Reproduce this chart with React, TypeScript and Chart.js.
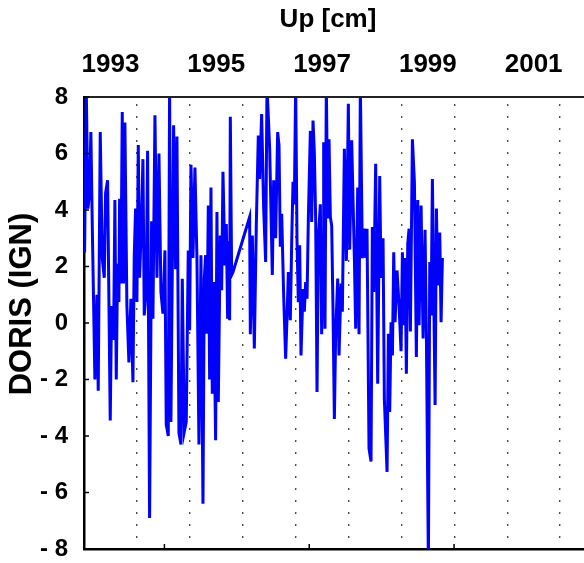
import React, { useEffect, useRef } from "react";
import { Chart, registerables } from "chart.js";

Chart.register(...registerables);

// Epochs (decimal years) and DORIS (IGN) Up residuals in cm
const epochYears: number[] = [
  1993.000, 1993.011, 1993.042, 1993.074, 1993.105, 1993.130, 1993.156, 1993.206, 1993.244, 1993.269,
  1993.307, 1993.345, 1993.383, 1993.408, 1993.446, 1993.496, 1993.521, 1993.559, 1993.584, 1993.610,
  1993.635, 1993.660, 1993.673, 1993.698, 1993.723, 1993.748, 1993.773, 1993.811, 1993.849, 1993.887,
  1993.925, 1993.950, 1993.975, 1994.000, 1994.026, 1994.051, 1994.089, 1994.114, 1994.139, 1994.177,
  1994.202, 1994.240, 1994.278, 1994.303, 1994.341, 1994.366,
  1994.379, 1994.417, 1994.454, 1994.492, 1994.530, 1994.555, 1994.593, 1994.618, 1994.643, 1994.694,
  1994.732, 1994.757, 1994.795, 1994.833, 1994.858, 1994.896, 1994.933, 1994.971, 1994.997, 1995.022,
  1995.060, 1995.097, 1995.135, 1995.173, 1995.211, 1995.249, 1995.274, 1995.299, 1995.324, 1995.350,
  1995.375, 1995.400, 1995.425, 1995.451, 1995.488, 1995.513, 1995.539, 1995.576, 1995.602, 1995.627,
  1995.665, 1995.690, 1995.715, 1995.740,
  1995.753, 1995.766, 1995.791, 1995.816, 1996.131, 1996.144, 1996.182, 1996.220, 1996.257, 1996.295,
  1996.320, 1996.358, 1996.396, 1996.434, 1996.459, 1996.510, 1996.560, 1996.585, 1996.623, 1996.661,
  1996.686, 1996.711, 1996.737, 1996.774, 1996.812, 1996.837, 1996.863, 1996.900, 1996.926, 1996.951,
  1996.976, 1997.001, 1997.027, 1997.052, 1997.077, 1997.102,
  1997.140, 1997.165, 1997.190, 1997.216, 1997.241, 1997.279, 1997.304, 1997.329, 1997.354, 1997.380,
  1997.405, 1997.430, 1997.468, 1997.493, 1997.518, 1997.531, 1997.556, 1997.581, 1997.607, 1997.632,
  1997.657, 1997.682, 1997.707, 1997.733, 1997.758, 1997.796, 1997.821, 1997.859, 1997.884, 1997.922,
  1997.960, 1997.997, 1998.023, 1998.060, 1998.111, 1998.136, 1998.174, 1998.199, 1998.224, 1998.262,
  1998.300, 1998.325, 1998.350, 1998.388, 1998.426, 1998.451,
  1998.477, 1998.514, 1998.552, 1998.590, 1998.615, 1998.653, 1998.678, 1998.729, 1998.754, 1998.779,
  1998.804, 1998.830, 1998.855, 1998.880, 1998.918, 1998.956, 1998.993, 1999.019, 1999.044, 1999.069,
  1999.094, 1999.120, 1999.145, 1999.170, 1999.208, 1999.246, 1999.283, 1999.309, 1999.334, 1999.372,
  1999.410, 1999.447, 1999.473, 1999.510, 1999.536, 1999.561, 1999.586, 1999.637, 1999.662, 1999.687,
  1999.725, 1999.750, 1999.775,
];

const upValues: number[] = [
  5.0, 2.5, 8.4, 4.05, 4.6, 6.76, 3.5, -2.0, 1.0, -2.4,
  6.76, 2.3, 1.6, 4.6, 5.05, -3.45, 0.6, -0.6, 4.35, -2.0,
  2.1, 0.74, 4.4, 1.4, 7.47, 1.4, 7.1, 0.6, -1.4, 0.86,
  -2.1, 2.4, 4.05, 0.74, 6.3, 1.6, 3.7, 5.8, 0.27, 1.2,
  6.1, -6.9, 3.6, 0.15, 7.35, 3.6,
  1.6, 6.0, 1.1, 0.33, 2.57, -3.6, -4.0, 8.4, -3.5, 7.0,
  1.9, 6.6, -3.9, -4.3, 1.57, -3.85, -3.5, 2.57, -0.26, 5.6,
  2.3, 5.5, 2.3, -4.3, 2.4, -6.4, 1.57, 2.4, -0.38, 4.16,
  -2.0, 4.8, -2.5, 1.45, -4.15, 3.93, -2.8, 3.1, 1.16, 5.35,
  2.04, 3.5, 0.15, 2.9,
  0.1, 7.3, 1.7, 1.8, 3.75, -0.4, 3.1, -0.9, 3.45, 6.64,
  5.1, 7.4, 4.05, 2.16, 8.4, 6.17, 1.7, 5.05, 3.0, 6.76,
  6.3, 2.7, 3.87, 1.0, -1.26, 0.15, 1.8, 0.1, 2.87, 5.0,
  4.2, 8.4, 2.87, 0.74, 2.75, -1.15,
  1.2, 0.4, 1.45, 0.86, 3.7, 6.8, 3.58, 7.17, 6.05, 3.6,
  -2.44, 3.0, 4.2, -0.4, 3.1, 6.4, -0.2, 8.4, 3.7, 6.5,
  3.75, 3.45, 0.5, -3.4, -0.3, 1.57, -1.15, 1.4, 0.4, 6.17,
  2.2, 7.76, 2.6, 6.47, 2.3, -0.2, 4.8, -0.4, 8.4, 2.3,
  3.34, 2.3, 3.34, -4.45, -4.9, 3.4,
  1.1, 5.64, -2.15, 5.2, 1.6, 3.0, -2.7, -5.27, -0.38, -3.15,
  0.03, -1.15, 2.5, 0.03, 1.86, 0.6, -1.0, 2.5, -0.08, 2.3,
  -1.8, 2.8, 3.34, -0.3, 6.5, 5.0, -1.2, 4.35, -0.08, 4.16,
  -0.55, 3.3, -0.55, -8.5, 2.16, 0.27, 5.1, -2.9, 4.05, 1.33,
  3.2, 0.03, 2.3,
];

const topLabelYears: number[] = [1993.5, 1995.5, 1997.5, 1999.5, 2001.5];
const topLabels: string[] = ["1993", "1995", "1997", "1999", "2001"];
const gridYears: number[] = [1994, 1995, 1996, 1997, 1998, 1999, 2000, 2001, 2002];
const dayTickYears: number[] = [1994.52, 1997.258, 1999.996];
const yTickValues: number[] = [-8, -6, -4, -2, 0, 2, 4, 6, 8];
const chartTitle = "Up [cm]";
const yTitle = "DORIS (IGN)";

const FONT = "'Liberation Sans', Arial, Helvetica, sans-serif";

const decorations = {
  id: "decorations",
  afterDraw(chart: any) {
    const { ctx, chartArea: a, scales } = chart;
    ctx.save();
    ctx.strokeStyle = "#000";
    ctx.lineWidth = 1.5;
    for (const v of yTickValues) {
      const py = scales.y.getPixelForValue(v);
      ctx.beginPath();
      ctx.moveTo(a.left, py);
      ctx.lineTo(a.left + 5, py);
      ctx.stroke();
    }
    for (const t of dayTickYears) {
      const px = scales.x.getPixelForValue(t);
      ctx.beginPath();
      ctx.moveTo(px, a.bottom);
      ctx.lineTo(px, a.bottom - 5);
      ctx.stroke();
    }
    ctx.fillStyle = "#000";
    ctx.textAlign = "center";
    ctx.textBaseline = "middle";
    ctx.font = `bold 26px ${FONT}`;
    ctx.fillText(chartTitle, 328, 20);
    ctx.font = `bold 31px ${FONT}`;
    ctx.translate(22, 304);
    ctx.rotate(-Math.PI / 2);
    ctx.fillText(yTitle, 0, 0);
    ctx.restore();
  },
};

export default function App() {
  const canvasRef = useRef<HTMLCanvasElement | null>(null);

  useEffect(() => {
    if (!canvasRef.current) return;
    const points = epochYears.map((x, i) => ({ x, y: upValues[i] }));
    const yTickFont = { family: FONT, size: 24, weight: "bold" as const };
    const xTickFont = { family: FONT, size: 26, weight: "bold" as const };
    const chart = new Chart(canvasRef.current, {
      type: "line",
      data: {
        datasets: [
          {
            data: points,
            borderColor: "#0000ff",
            borderWidth: 3,
            pointRadius: 0,
            tension: 0,
            fill: false,
            xAxisID: "x",
            yAxisID: "y",
          },
        ],
      },
      options: {
        animation: false,
        responsive: false,
        layout: { padding: 0 },
        plugins: {
          legend: { display: false },
          tooltip: { enabled: false },
          title: { display: false },
        },
        scales: {
          x: {
            type: "linear",
            position: "bottom",
            min: 1993,
            max: 2003,
            afterBuildTicks: (s: any) => {
              s.ticks = gridYears.map((v) => ({ value: v }));
            },
            afterFit: (s: any) => {
              s.height = 31;
            },
            ticks: { display: false },
            grid: {
              display: true,
              drawOnChartArea: true,
              drawTicks: false,
              color: "#111",
              lineWidth: 1.4,
            },
            border: { display: true, color: "#000", width: 2.5, dash: [1.5, 10.5], dashOffset: 4.7 },
          },
          xTop: {
            type: "linear",
            position: "top",
            min: 1993,
            max: 2003,
            afterBuildTicks: (s: any) => {
              s.ticks = topLabelYears.map((v) => ({ value: v }));
            },
            afterFit: (s: any) => {
              s.height = 97;
            },
            ticks: {
              display: true,
              autoSkip: false,
              maxRotation: 0,
              padding: 9,
              color: "#000",
              font: xTickFont,
              callback: (_v: any, i: number) => topLabels[i],
            },
            grid: { display: false },
            border: { display: true, color: "#222", width: 2 },
          },
          y: {
            type: "linear",
            position: "left",
            min: -8,
            max: 8,
            afterBuildTicks: (s: any) => {
              s.ticks = yTickValues.map((v) => ({ value: v }));
            },
            afterFit: (s: any) => {
              s.width = 84;
            },
            ticks: {
              padding: 8,
              color: "#000",
              font: yTickFont,
              callback: (v: any) => (Number(v) < 0 ? "- " + Math.abs(Number(v)) : String(v)),
            },
            grid: { display: false },
            border: { display: true, color: "#000", width: 2.5 },
          },
        },
      },
      plugins: [decorations],
    } as any);
    return () => chart.destroy();
  }, []);

  return (
    <div
      style={{
        position: "fixed",
        left: 0,
        top: 0,
        width: 584,
        height: 563,
        overflow: "hidden",
        background: "#fff",
      }}
    >
      <canvas ref={canvasRef} width={613} height={580} style={{ display: "block" }} />
    </div>
  );
}
